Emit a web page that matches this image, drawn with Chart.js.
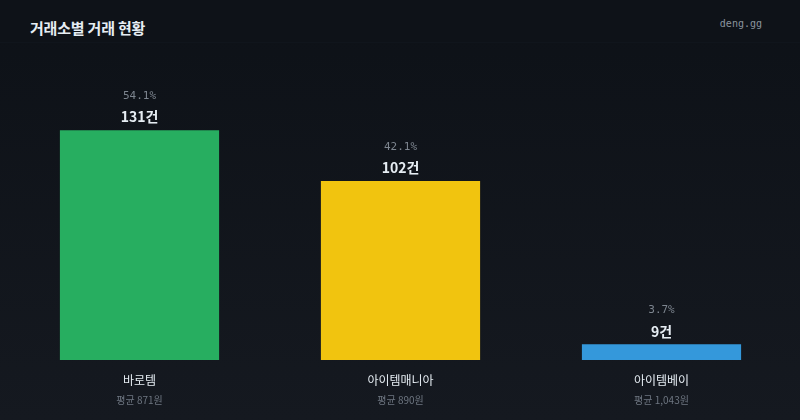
<!DOCTYPE html>
<html>
<head>
<meta charset="utf-8">
<script src="https://cdn.jsdelivr.net/npm/chart.js@4/dist/chart.umd.min.js"></script>
<style>
  html, body { margin: 0; padding: 0; }
  body {
    width: 800px; height: 420px; overflow: hidden; position: relative;
    background: linear-gradient(180deg, #0d1117 0%, #151920 100%);
    font-family: "Noto Sans CJK KR", "Noto Sans", sans-serif;
  }
  .header {
    position: absolute; left: 0; top: 0; width: 800px; height: 42px;
    background: #0e1218; border-bottom: 1px solid #10151c;
  }
  .title {
    position: absolute; left: 30px; top: 17px;
    font-size: 15px; font-weight: 700; color: #e6edf3; line-height: 22px;
    letter-spacing: -0.2px;
  }
  .brand {
    position: absolute; right: 38px; top: 18px;
    font-family: "DejaVu Sans Mono", monospace; font-size: 10px; color: #8b949e;
  }
  #wrap { position: absolute; left: 0; top: 0; width: 800px; height: 420px; }
</style>
</head>
<body>
<div class="header"></div>
<div class="title">거래소별 거래 현황</div>
<div class="brand">deng.gg</div>
<div id="wrap"><canvas id="chart"></canvas></div>
<script>
// 거래소별 데이터
const exchanges = ['바로템', '아이템매니아', '아이템베이'];
const trades = [131, 102, 9];
const shares = ['54.1%', '42.1%', '3.7%'];
const avgPrices = ['평균 871원', '평균 890원', '평균 1,043원'];
const barColors = ['#27ae60', '#f1c40f', '#3498db'];

const labelPlugin = {
  id: 'barLabels',
  afterDatasetsDraw(chart) {
    const c = chart.ctx;
    const meta = chart.getDatasetMeta(0);
    c.save();
    c.textAlign = 'center';
    c.textBaseline = 'middle';
    meta.data.forEach((bar, i) => {
      // 위쪽: 비율, 건수
      c.fillStyle = '#7d858f';
      c.font = '11px "DejaVu Sans Mono", monospace';
      c.fillText(shares[i], bar.x, bar.y - 34);
      c.fillStyle = '#e6edf3';
      c.font = 'bold 14px "Noto Sans CJK KR", sans-serif';
      c.fillText(trades[i] + '건', bar.x, bar.y - 13);
      // 아래쪽: 거래소명, 평균가
      const base = chart.chartArea.bottom;
      c.fillStyle = '#e6edf3';
      c.font = '12px "Noto Sans CJK KR", sans-serif';
      c.fillText(exchanges[i], bar.x, base + 20);
      c.fillStyle = '#6e7681';
      c.font = '10px "Noto Sans CJK KR", sans-serif';
      c.fillText(avgPrices[i], bar.x, base + 40);
    });
    c.restore();
  }
};

new Chart(document.getElementById('chart'), {
  type: 'bar',
  data: {
    labels: exchanges,
    datasets: [{
      data: trades,
      backgroundColor: barColors,
      borderWidth: 0,
      barPercentage: 0.61,
      categoryPercentage: 1
    }]
  },
  options: {
    responsive: true,
    maintainAspectRatio: false,
    animation: false,
    layout: { padding: { left: 9, right: 8, top: 60, bottom: 60 } },
    plugins: { legend: { display: false }, tooltip: { enabled: false } },
    scales: {
      x: { display: false },
      y: { display: false, beginAtZero: true, max: 171 }
    }
  },
  plugins: [labelPlugin]
});
</script>
</body>
</html>
